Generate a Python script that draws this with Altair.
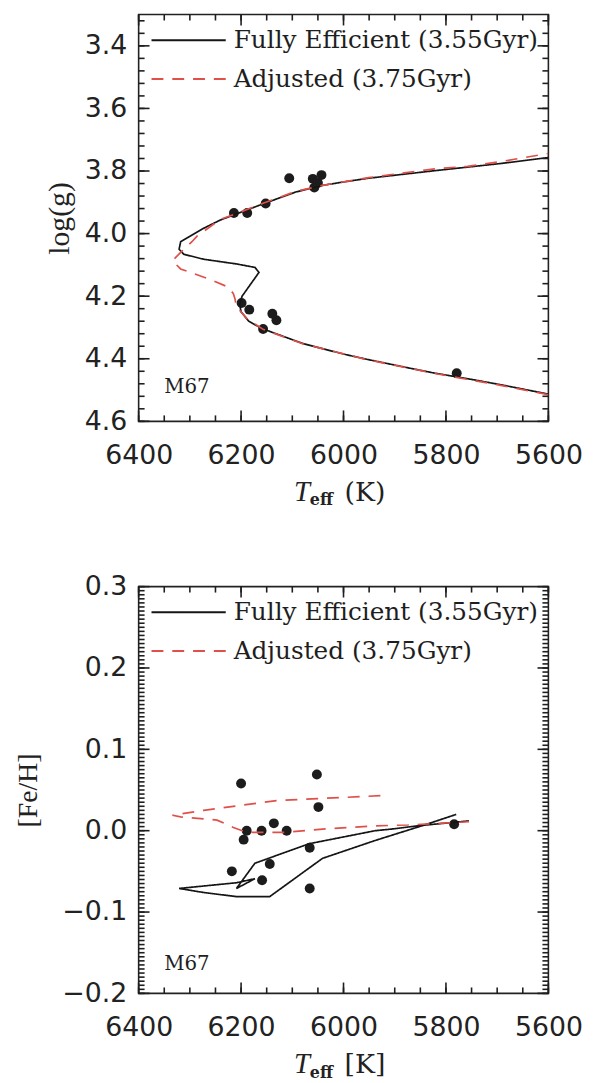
import altair as alt
import numpy as np
import pandas as pd

MODEL_FULL = "Fully Efficient (3.55Gyr)"
MODEL_ADJ = "Adjusted (3.75Gyr)"

# ---------------- top panel: log(g) vs Teff ----------------
top_full_teff = [5600, 5693, 5750, 5822, 5880, 5951, 6000, 6080, 6120, 6160, 6185, 6200, 6203, 6198,
                 6185, 6172, 6165, 6173, 6209, 6273, 6312, 6321, 6318, 6299, 6273, 6241, 6209, 6157,
                 6093, 6041, 6000, 5951, 5822, 5693, 5600]
top_full_logg = [4.513, 4.483, 4.466, 4.446, 4.427, 4.403, 4.385, 4.351, 4.327, 4.303, 4.280, 4.250,
                 4.225, 4.200, 4.170, 4.140, 4.124, 4.108, 4.097, 4.082, 4.066, 4.050, 4.026, 4.008,
                 3.983, 3.957, 3.937, 3.905, 3.867, 3.846, 3.835, 3.823, 3.799, 3.776, 3.757]

top_adj_teff = [5600, 5693, 5822, 5951, 6080, 6157, 6189, 6209, 6212, 6215, 6225, 6263, 6318, 6334,
                6318, 6296, 6286, 6241, 6209, 6157, 6093, 6041, 5951, 5822, 5758, 5693, 5600]
top_adj_logg = [4.515, 4.485, 4.447, 4.404, 4.352, 4.306, 4.271, 4.234, 4.208, 4.192, 4.171, 4.145,
                4.113, 4.087, 4.060, 4.026, 4.008, 3.955, 3.936, 3.903, 3.865, 3.846, 3.821, 3.793,
                3.785, 3.770, 3.744]

top_star_teff = [6214, 6188, 6152, 6106, 6060, 6043, 6057, 6050, 6199, 6184, 6139, 6131, 6157, 5779]
top_star_logg = [3.934, 3.934, 3.904, 3.823, 3.825, 3.813, 3.853, 3.838, 4.222, 4.243, 4.256, 4.277,
                 4.305, 4.446]

# ---------------- bottom panel: [Fe/H] vs Teff ----------------
bot_full_teff = [5780, 5842, 5938, 6041, 6144, 6209, 6273, 6321, 6209, 6173, 6209, 6173, 6067, 5938,
                 5906, 5855, 5755]
bot_full_feh = [0.020, 0.007, -0.012, -0.034, -0.081, -0.081, -0.076, -0.071, -0.064, -0.059, -0.071,
                -0.040, -0.016, 0.000, 0.002, 0.006, 0.012]

bot_adj_teff = [5928, 6131, 6273, 6334, 6318, 6247, 6215, 6189, 6112, 6041, 5938, 5874, 5755]
bot_adj_feh = [0.043, 0.037, 0.025, 0.019, 0.017, 0.013, 0.004, -0.002, -0.002, 0.002, 0.006, 0.007,
               0.011]

bot_star_teff = [6200, 6052, 6049, 6189, 6160, 6136, 6111, 6195, 6066, 6144, 6218, 6159, 6066, 5784]
bot_star_feh = [0.058, 0.069, 0.029, 0.000, 0.000, 0.009, 0.000, -0.011, -0.021, -0.041, -0.050,
                -0.061, -0.071, 0.008]

# ---------------- labels / ticks ----------------
cluster_label = "M67"
top_label_teff, top_label_logg = [6350], [4.508]
bot_label_teff, bot_label_feh = [6350], [-0.171]

x_major = [5600, 5800, 6000, 6200, 6400]
x_minor = list(range(5600, 6401, 50))
top_y_major = [3.4, 3.6, 3.8, 4.0, 4.2, 4.4, 4.6]
top_y_minor = [round(v, 2) for v in np.arange(3.32, 4.601, 0.04)]
bot_y_major = [-0.2, -0.1, 0.0, 0.1, 0.2, 0.3]
bot_y_minor = [round(v, 3) for v in np.arange(-0.2, 0.3001, 0.005)]

W, H = 414, 411
TICK_FONT = "DejaVu Sans"
SERIF = "DejaVu Serif"
RED = "#e0504a"
INK = "#1e1e1e"


def lines_frame(teff_a, v_a, teff_b, v_b):
    rows = []
    for i, (t, v) in enumerate(zip(teff_a, v_a)):
        rows.append({"T": t, "v": v, "model": MODEL_FULL, "i": i})
    for i, (t, v) in enumerate(zip(teff_b, v_b)):
        rows.append({"T": t, "v": v, "model": MODEL_ADJ, "i": i})
    return pd.DataFrame(rows)


def panel(lines_df, stars_df, label_df, ydomain, yreverse, ymajor, yminor, yfmt,
          ytitle, ytitle_font_size, ytitle_pad, unit_text):
    xs = alt.Scale(domain=[5600, 6400], reverse=True, nice=False, zero=False)
    ys = alt.Scale(domain=ydomain, reverse=yreverse, nice=False, zero=False)

    legend = alt.Legend(orient="none", legendX=12, legendY=14, title=None, symbolType="stroke",
                        symbolSize=5625, symbolStrokeWidth=2, clipHeight=24, rowPadding=14,
                        labelFont=SERIF, labelFontSize=25, labelColor=INK, labelOffset=7,
                        labelLimit=500, padding=0)

    lines = alt.Chart(lines_df).mark_line(strokeWidth=1.7, clip=True).encode(
        x=alt.X("T:Q", scale=xs),
        y=alt.Y("v:Q", scale=ys),
        color=alt.Color("model:N", scale=alt.Scale(domain=[MODEL_FULL, MODEL_ADJ],
                                                   range=["#151515", RED]), legend=legend),
        strokeDash=alt.StrokeDash("model:N", scale=alt.Scale(domain=[MODEL_FULL, MODEL_ADJ],
                                                             range=[[1, 0], [12, 9]]), legend=legend),
        order="i:Q",
    )

    stars = alt.Chart(stars_df).mark_circle(size=100, color="#1c1c1c", opacity=1).encode(
        x=alt.X("T:Q", scale=xs, axis=alt.Axis(orient="bottom", values=x_major, format="d",
                                               tickSize=0, domain=False, grid=False, labelFont=TICK_FONT,
                                               labelFontSize=27, labelColor="#222222", labelPadding=22,
                                               labelFlush=False, labelOverlap=False, title=None)),
        y=alt.Y("v:Q", scale=ys, axis=alt.Axis(orient="left", values=ymajor, format=yfmt,
                                               tickSize=0, domain=False, grid=False, labelFont=TICK_FONT,
                                               labelFontSize=27, labelColor="#222222", labelPadding=12,
                                               labelFlush=False, labelOverlap=False, title=ytitle,
                                               titleFont="Liberation Serif", titleFontSize=ytitle_font_size,
                                               titleFontWeight="normal", titleColor="#222222",
                                               titlePadding=ytitle_pad)),
    )

    # inward ticks on all four sides: tick marks placed from the tick-value arrays through the scales
    def xticks(vals, length):
        d = pd.DataFrame({"T": vals})
        bottom_t = alt.Chart(d).mark_tick(color=INK, thickness=1.6, size=length, orient="vertical",
                                          opacity=1).encode(
            x=alt.X("T:Q", scale=xs), y=alt.value(H - length / 2))
        top_t = alt.Chart(d).mark_tick(color=INK, thickness=1.6, size=length, orient="vertical",
                                       opacity=1).encode(
            x=alt.X("T:Q", scale=xs), y=alt.value(length / 2))
        return [bottom_t, top_t]

    def yticks(vals, length):
        d = pd.DataFrame({"v": vals})
        left_t = alt.Chart(d).mark_tick(color=INK, thickness=1.6, size=length, orient="horizontal",
                                        opacity=1).encode(
            y=alt.Y("v:Q", scale=ys), x=alt.value(length / 2))
        right_t = alt.Chart(d).mark_tick(color=INK, thickness=1.6, size=length, orient="horizontal",
                                         opacity=1).encode(
            y=alt.Y("v:Q", scale=ys), x=alt.value(W - length / 2))
        return [left_t, right_t]

    ticks = xticks(x_major, 11) + xticks(x_minor, 6) + yticks(ymajor, 11) + yticks(yminor, 6)

    label = alt.Chart(label_df).mark_text(font=SERIF, fontSize=20, color=INK, align="left",
                                          baseline="alphabetic").encode(
        x=alt.X("T:Q", scale=xs),
        y=alt.Y("v:Q", scale=ys),
        text="txt:N",
    )

    t_main = alt.Chart(pd.DataFrame({"s": ["T"]})).mark_text(
        font="Liberation Serif", fontStyle="italic", fontSize=29, color="#222222", align="left",
        baseline="alphabetic").encode(x=alt.value(157), y=alt.value(H + 80), text="s:N")
    t_sub = alt.Chart(pd.DataFrame({"s": ["eff"]})).mark_text(
        font=SERIF, fontWeight="bold", fontSize=16, color="#222222", align="left",
        baseline="alphabetic").encode(x=alt.value(173), y=alt.value(H + 85), text="s:N")
    t_unit = alt.Chart(pd.DataFrame({"s": [unit_text]})).mark_text(
        font=SERIF, fontSize=27, color="#222222", align="left",
        baseline="alphabetic").encode(x=alt.value(208), y=alt.value(H + 80), text="s:N")

    return alt.layer(stars, lines, label, *ticks, t_main, t_sub, t_unit).properties(width=W, height=H)


top_lines = lines_frame(top_full_teff, top_full_logg, top_adj_teff, top_adj_logg)
top_stars = pd.DataFrame({"T": top_star_teff, "v": top_star_logg})
top_label = pd.DataFrame({"T": top_label_teff, "v": top_label_logg, "txt": [cluster_label]})

bot_lines = lines_frame(bot_full_teff, bot_full_feh, bot_adj_teff, bot_adj_feh)
bot_stars = pd.DataFrame({"T": bot_star_teff, "v": bot_star_feh})
bot_label = pd.DataFrame({"T": bot_label_teff, "v": bot_label_feh, "txt": [cluster_label]})

top = panel(top_lines, top_stars, top_label, [3.3, 4.6], True, top_y_major, top_y_minor, ".1f",
            "log(g)", 30, 10, "(K)")
bottom = panel(bot_lines, bot_stars, bot_label, [-0.2, 0.3], False, bot_y_major, bot_y_minor, ".1f",
               "[Fe/H]", 28, 20, "[K]")

chart = alt.vconcat(top, bottom, spacing=63).resolve_scale(
    color="independent", strokeDash="independent").resolve_legend(
    color="independent", strokeDash="independent").properties(
    padding={"left": 5, "top": 0, "right": 2, "bottom": 5}
).configure_view(stroke="#222222", strokeWidth=1.6)

chart.save("out.html", embed_options={"renderer": "svg", "actions": False})
